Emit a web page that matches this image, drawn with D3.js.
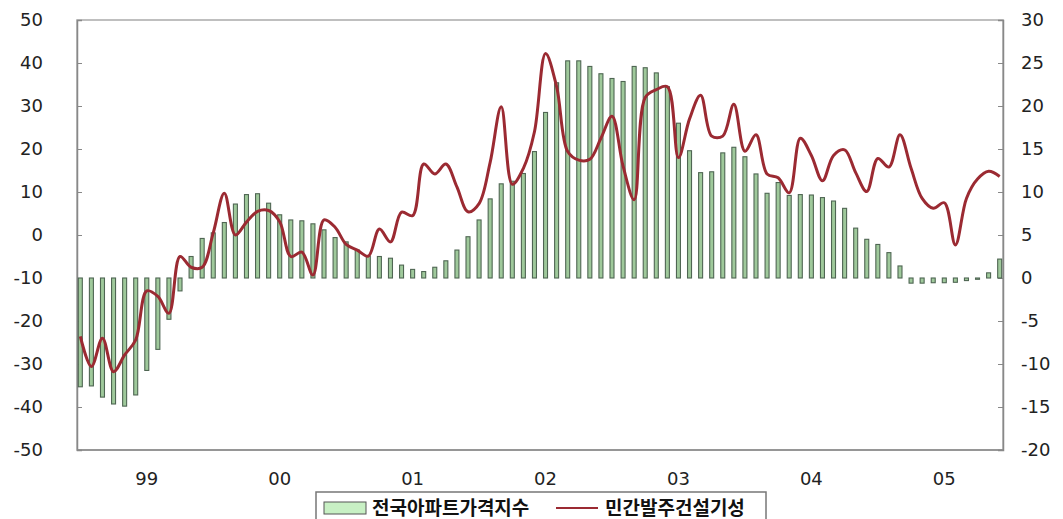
<!DOCTYPE html>
<html>
<head>
<meta charset="utf-8">
<script src="https://cdn.jsdelivr.net/npm/d3@7"></script>
<style>
  body { margin: 0; background: #fff; }
  .tick-label { font-family: 'DejaVu Sans', sans-serif; font-size: 18px; fill: #222; }
  .legend-text { font-family: 'Noto Sans CJK KR', sans-serif; font-size: 19px; font-weight: bold; fill: #111; }
</style>
</head>
<body>
<div id="chartContainer"></div>
<script>
// monthly, Jan 1999 .. Dec 2005
const years = [1999, 2000, 2001, 2002, 2003, 2004, 2005];
const yearLabels = ['99', '00', '01', '02', '03', '04', '05'];
const months = years.flatMap(y => d3.range(1, 13).map(m => `${y}-${m}`));

// 전국아파트가격지수 (right axis)
const aptPrice = [
    -12.65, -12.55, -13.85, -14.65, -14.9, -13.6, -10.75, -8.3, -4.8, -1.5, 2.5, 4.6,
    5.25, 6.45, 8.6, 9.7, 9.8, 8.7, 7.35, 6.75, 6.65, 6.3, 5.6, 4.7,
    4.2, 3.25, 2.55, 2.5, 2.3, 1.5, 1.0, 0.75, 1.25, 2.0, 3.25, 4.8,
    6.75, 9.2, 10.95, 11.25, 12.15, 14.7, 19.25, 22.7, 25.25, 25.25, 24.6, 23.75,
    23.2, 22.85, 24.6, 24.45, 23.85, 22.25, 18.0, 14.8, 12.25, 12.35, 14.55, 15.2,
    14.1, 12.1, 9.85, 11.1, 9.6, 9.7, 9.65, 9.35, 8.95, 8.1, 5.8, 4.5,
    3.9, 2.95, 1.4, -0.6, -0.6, -0.55, -0.55, -0.5, -0.3, -0.15, 0.6, 2.2
];

// 민간발주건설기성 (left axis)
const privateConstr = [
    -23.6, -30.6, -24, -31.8, -27.9, -24.4, -13, -14.3, -18.2, -5, -7.5, -7.5,
    0.5, 9.7, 0.0, 3, 5.5, 5.7, 3.1, -5.0, -4.0, -9.3, 3.5, 1.8,
    -2.2, -3.5, -4.9, 1.4, -1.6, 5.3, 4.5, 16.5, 14.2, 16.5, 11.2, 5.4,
    7.3, 16.9, 29.8, 11.8, 15.5, 24, 42.2, 34.5, 19.4, 17.4, 17.6, 22.5,
    27.6, 16, 8.2, 32, 33.8, 34.5, 18, 27, 32.5, 23, 23, 30.4,
    19.5, 23.3, 14.2, 13.3, 9.8, 22.5, 18.5, 12.6, 18.5, 19.8, 14.5, 10.1,
    17.8, 15.8, 23.3, 15.5, 8.5, 6.2, 7.5, -2.3, 8.5, 13, 14.8, 13.6
];

const leftTicks = [-50, -40, -30, -20, -10, 0, 10, 20, 30, 40, 50];
const rightTicks = [-20, -15, -10, -5, 0, 5, 10, 15, 20, 25, 30];

const svgWidth = 1063;
const svgHeight = 519;
const plot = { left: 77, right: 1003, top: 20, bottom: 450 };

const svg = d3.select('#chartContainer')
    .append('svg')
    .attr('width', svgWidth)
    .attr('height', svgHeight);

const xScale = d3.scalePoint()
    .domain(months)
    .range([plot.left, plot.right])
    .padding(0.3);

const yLeft = d3.scaleLinear()
    .domain([-50, 50])
    .range([plot.bottom, plot.top]);

const yRight = d3.scaleLinear()
    .domain([-20, 30])
    .range([plot.bottom, plot.top]);

// frame
svg.append('rect')
    .attr('x', plot.left)
    .attr('y', plot.top)
    .attr('width', plot.right - plot.left)
    .attr('height', plot.bottom - plot.top)
    .attr('fill', 'none')
    .attr('stroke', '#aaa')
    .attr('stroke-width', 1.5);

// axes (ticks inward, labels drawn separately)
const leftAxis = d3.axisRight(yLeft).tickValues(leftTicks).tickSize(5).tickFormat('');
svg.append('g')
    .attr('transform', `translate(${plot.left},0)`)
    .call(leftAxis)
    .call(g => g.selectAll('line').attr('stroke', '#888'))
    .call(g => g.select('.domain').attr('stroke', '#888').attr('stroke-width', 1.5));

const rightAxis = d3.axisLeft(yRight).tickValues(rightTicks).tickSize(5).tickFormat('');
svg.append('g')
    .attr('transform', `translate(${plot.right},0)`)
    .call(rightAxis)
    .call(g => g.selectAll('line').attr('stroke', '#888'))
    .call(g => g.select('.domain').attr('stroke', '#888').attr('stroke-width', 1.5));

svg.append('line')
    .attr('x1', plot.left).attr('x2', plot.right)
    .attr('y1', plot.bottom).attr('y2', plot.bottom)
    .attr('stroke', '#888')
    .attr('stroke-width', 1.5);

svg.selectAll('.left-label')
    .data(leftTicks)
    .enter().append('text')
    .attr('class', 'tick-label')
    .attr('x', 43)
    .attr('y', d => yLeft(d))
    .attr('dy', '0.36em')
    .attr('text-anchor', 'end')
    .text(d => d);

svg.selectAll('.right-label')
    .data(rightTicks)
    .enter().append('text')
    .attr('class', 'tick-label')
    .attr('x', 1021)
    .attr('y', d => yRight(d))
    .attr('dy', '0.36em')
    .attr('text-anchor', 'start')
    .text(d => d);

svg.selectAll('.year-label')
    .data(yearLabels)
    .enter().append('text')
    .attr('class', 'tick-label')
    .attr('x', (d, i) => xScale(months[i * 12 + 6]))
    .attr('y', 479)
    .attr('dy', '0.36em')
    .attr('text-anchor', 'middle')
    .text(d => d);

// bars
const barW = 4;
svg.selectAll('.bar')
    .data(aptPrice)
    .enter().append('rect')
    .attr('class', 'bar')
    .attr('x', (d, i) => xScale(months[i]) - barW / 2)
    .attr('y', d => yRight(Math.max(0, d)))
    .attr('width', barW)
    .attr('height', d => Math.abs(yRight(d) - yRight(0)))
    .attr('fill', '#9fc99b')
    .attr('stroke', '#4f6653')
    .attr('stroke-width', 1.1);

// line
const line = d3.line()
    .x((d, i) => xScale(months[i]))
    .y(d => yLeft(d))
    .curve(d3.curveCatmullRom.alpha(0.5));

svg.append('path')
    .datum(privateConstr)
    .attr('fill', 'none')
    .attr('stroke', '#9b2a32')
    .attr('stroke-width', 3)
    .attr('stroke-linejoin', 'round')
    .attr('d', line);

// legend
const legend = svg.append('g');
legend.append('rect')
    .attr('x', 316).attr('y', 492)
    .attr('width', 450).attr('height', 30)
    .attr('fill', '#fff')
    .attr('stroke', '#777')
    .attr('stroke-width', 1.5);
legend.append('rect')
    .attr('x', 324).attr('y', 502)
    .attr('width', 42).attr('height', 12)
    .attr('fill', '#c8f0c4')
    .attr('stroke', '#555')
    .attr('stroke-width', 1);
legend.append('text')
    .attr('class', 'legend-text')
    .attr('x', 372).attr('y', 508)
    .attr('dy', '0.36em')
    .text('전국아파트가격지수');
legend.append('line')
    .attr('x1', 556).attr('x2', 598)
    .attr('y1', 508).attr('y2', 508)
    .attr('stroke', '#9b2a32')
    .attr('stroke-width', 2);
legend.append('text')
    .attr('class', 'legend-text')
    .attr('x', 605).attr('y', 508)
    .attr('dy', '0.36em')
    .text('민간발주건설기성');
</script>
</body>
</html>
